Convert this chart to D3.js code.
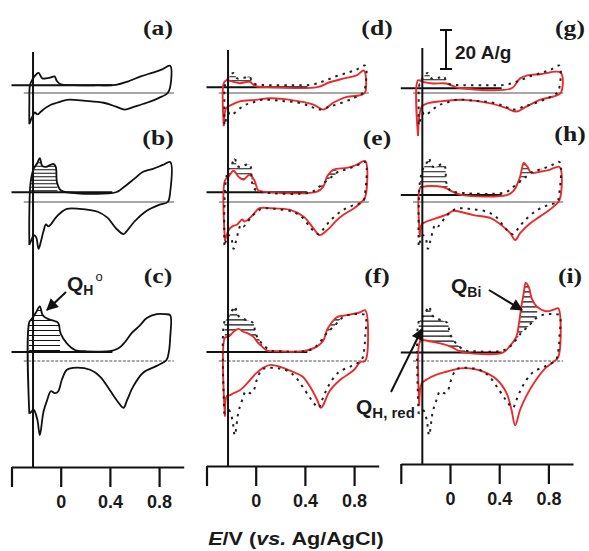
<!DOCTYPE html>
<html>
<head>
<meta charset="utf-8">
<script src="https://cdn.jsdelivr.net/npm/d3@7"></script>
<style>
  body { margin: 0; background: #fff; }
  svg { display: block; }
</style>
</head>
<body>
<svg id="chart" width="589" height="551"></svg>
<script>
// cyclic voltammograms, E in V vs Ag/AgCl, I in A/g
// each loop: anodic sweep first, then back along the cathodic sweep

// left column (a)-(c), also the dotted reference in the other columns
const cvA = [[-0.255,-16],[-0.255,-5],[-0.25,4],[-0.23,7],[-0.2,9.5],[-0.18,10.3],[-0.15,7.5],[-0.12,7.5],[-0.08,8],[-0.05,8.5],[-0.03,6],[0.0,4.5],[0.1,4],[0.3,4],[0.45,4.2],[0.55,6],[0.65,8.5],[0.75,10.5],[0.82,12],[0.89,14],[0.89,3],[0.87,0],
  [0.8,-2.5],[0.7,-5],[0.6,-7],[0.52,-8.5],[0.45,-7],[0.35,-5],[0.2,-4],[0.05,-3.5],[-0.03,-5],[-0.08,-6],[-0.12,-7.5],[-0.16,-9.5],[-0.19,-11],[-0.21,-10],[-0.23,-12],[-0.255,-16]];
const cvB = [[-0.255,-22],[-0.255,-5],[-0.245,10],[-0.22,17],[-0.19,20],[-0.17,22.5],[-0.15,18.5],[-0.12,18],[-0.06,19.5],[-0.04,18],[-0.03,10],[0.0,6],[0.05,5],[0.45,5],[0.52,8],[0.6,12],[0.67,15.5],[0.75,17],[0.83,19],[0.89,20.5],[0.89,5],[0.87,0],
  [0.8,-1.5],[0.7,-4.5],[0.6,-10],[0.53,-15.5],[0.51,-16.5],[0.45,-13.5],[0.38,-8],[0.3,-5],[0.15,-3.5],[0.05,-3.5],[0.0,-5.5],[-0.04,-8],[-0.08,-11.5],[-0.1,-12.5],[-0.12,-11.5],[-0.14,-15],[-0.16,-20],[-0.18,-24],[-0.2,-18],[-0.22,-17],[-0.235,-19],[-0.255,-22]];
const cvC = [[-0.255,-27],[-0.255,20],[-0.23,22],[-0.2,25],[-0.17,28],[-0.15,24],[-0.13,22.5],[-0.1,21.5],[-0.05,20.5],[-0.02,19.5],[0.0,14],[0.05,9],[0.12,5.5],[0.2,5],[0.4,5],[0.47,6.5],[0.52,9.5],[0.58,14.5],[0.64,18],[0.7,22],[0.78,24],[0.85,24],[0.89,23.5],[0.89,12],[0.88,5],[0.86,0.5],
  [0.78,-2.5],[0.67,-6],[0.59,-13],[0.54,-20],[0.51,-24],[0.46,-20.5],[0.4,-15],[0.32,-8],[0.24,-4.5],[0.1,-3.5],[0.05,-4.5],[0.01,-9.5],[-0.02,-15.5],[-0.045,-16.5],[-0.08,-15.5],[-0.11,-20],[-0.14,-26],[-0.17,-38],[-0.19,-30],[-0.22,-25],[-0.245,-26.5],[-0.255,-27]];

// red curves, middle column (d)-(f)
const redD = [[-0.26,-17],[-0.26,5],[-0.24,6.5],[-0.18,5.7],[-0.13,5],[-0.05,5.7],[0.0,3.5],[0.1,3],[0.5,3],[0.6,5.5],[0.72,7.5],[0.82,9],[0.88,11.5],[0.89,0.5],
  [0.86,-1],[0.74,-2],[0.63,-5],[0.55,-8.5],[0.47,-6],[0.28,-3.5],[0.12,-2.7],[0.0,-3.5],[-0.13,-4.3],[-0.21,-6.5],[-0.24,-7.7],[-0.26,-17]];
const redE = [[-0.25,-20],[-0.25,11],[-0.22,13],[-0.18,16],[-0.14,13],[-0.1,11.5],[-0.05,14],[-0.01,11],[0.02,6],[0.06,5.3],[0.5,5.3],[0.55,8],[0.58,13],[0.63,16.5],[0.74,17.5],[0.82,19],[0.89,21],[0.89,2.5],[0.86,0],
  [0.8,-3.2],[0.71,-6.7],[0.66,-9.3],[0.58,-14.5],[0.52,-17],[0.47,-13.5],[0.39,-7.5],[0.28,-4],[0.12,-3.2],[0.03,-3.2],[-0.02,-6.5],[-0.05,-8.3],[-0.09,-10],[-0.11,-9],[-0.15,-11.5],[-0.19,-12.5],[-0.22,-14.5],[-0.25,-20]];
const redF = [[-0.25,-28.5],[-0.25,12],[-0.22,12.5],[-0.18,15],[-0.14,16.5],[-0.1,15],[-0.06,14],[-0.02,12.5],[0.01,10],[0.05,7.5],[0.09,5.5],[0.2,5],[0.38,5],[0.5,7.5],[0.55,10.5],[0.58,16],[0.61,19],[0.66,22.5],[0.74,23.5],[0.85,25],[0.89,26],[0.89,0],
  [0.85,-0.5],[0.8,-4.5],[0.68,-10],[0.6,-15.5],[0.55,-22.5],[0.53,-24],[0.5,-20],[0.44,-13],[0.38,-8],[0.3,-5.5],[0.2,-3],[0.12,-2],[0.06,-3.5],[0.0,-6.5],[-0.07,-11.5],[-0.13,-15],[-0.18,-16.5],[-0.21,-17.5],[-0.235,-18],[-0.25,-28.5]];

// red curves, right column (g)-(i)
const redG = [[-0.26,-22],[-0.26,6.5],[-0.22,5.7],[-0.14,4.9],[-0.03,4.9],[0.05,2.9],[0.1,2.4],[0.5,2.4],[0.57,7.5],[0.63,9],[0.73,9.6],[0.9,10.4],[0.9,0],
  [0.84,-1.8],[0.73,-3.5],[0.62,-7],[0.54,-9.5],[0.46,-7.8],[0.33,-5.3],[0.11,-3.5],[-0.08,-4.3],[-0.19,-5.5],[-0.23,-7],[-0.26,-22]];
const redH = [[-0.245,-18],[-0.245,7],[-0.22,7.8],[-0.16,8.2],[-0.05,7.5],[0.0,6],[0.05,4.5],[0.1,3.5],[0.46,3.5],[0.52,6],[0.57,13],[0.6,20],[0.63,18],[0.66,15],[0.73,15.5],[0.81,16.5],[0.89,18],[0.89,1],
  [0.84,-2.5],[0.73,-7.5],[0.65,-11],[0.57,-16],[0.53,-19.5],[0.49,-16],[0.43,-12.5],[0.33,-8.3],[0.19,-6.7],[0.08,-5],[0.03,-4.5],[-0.03,-6.5],[-0.11,-8.3],[-0.19,-10],[-0.23,-11.5],[-0.245,-18]];
const redI = [[-0.25,-23],[-0.25,9],[-0.23,10.7],[-0.16,10],[-0.08,9],[0.0,7.5],[0.08,5],[0.12,4.3],[0.43,4.3],[0.49,8],[0.54,12.5],[0.56,19],[0.58,28],[0.6,35],[0.615,40],[0.64,38],[0.665,32],[0.705,28],[0.78,25.5],[0.85,26.5],[0.88,27],[0.88,2],
  [0.84,-0.5],[0.77,-4],[0.68,-11.5],[0.62,-18],[0.57,-25],[0.53,-33],[0.5,-25],[0.46,-16.5],[0.38,-9.5],[0.27,-5.5],[0.16,-3.8],[0.08,-3.8],[0.03,-4.5],[-0.03,-5.5],[-0.11,-7],[-0.19,-9.5],[-0.23,-11.5],[-0.25,-23]];

const panelLabels = [["(a)", "(b)", "(c)"], ["(d)", "(e)", "(f)"], ["(g)", "(h)", "(i)"]];
// double-layer level (black line), A/g, by column then row
const baseCurrent = [[4, 5, 4.6], [3, 5, 4.6], [2.4, 3.6, 4.4]];
// upper E of the hatched H region, and E range of the hatched Bi region
const hEnd = [[null, -0.025, -0.005], [0.0, 0.0, 0.06], [0.0, 0.06, 0.12]];
const biRange = [[null, null, null], [null, [0.5, 0.7], [0.5, 0.75]], [null, [0.5, 0.75], [0.46, 0.76]]];
const xTicks = [-0.4, 0, 0.4, 0.8];
const xTickLabels = ["", "0", "0.4", "0.8"];
const scaleBar = 20; // A/g

const refLoops = [cvA, cvB, cvC];
const redLoops = [null, [redD, redE, redF], [redG, redH, redI]];

const svg = d3.select("#chart");
svg.append("rect").attr("width", 589).attr("height", 551).attr("fill", "#fff");
const defs = svg.append("defs");
defs.append("marker")
  .attr("id", "arrow")
  .attr("viewBox", "0 0 10 10")
  .attr("refX", 9).attr("refY", 5)
  .attr("markerWidth", 15).attr("markerHeight", 12)
  .attr("markerUnits", "userSpaceOnUse")
  .attr("orient", "auto")
  .append("path").attr("d", "M0,0L10,5L0,10Z").attr("fill", "#111");

const colX0 = [60.7, 255.7, 450];   // pixel of E = 0 per column
const rowY0 = [93, 202, 361];       // pixel of I = 0 per row
const axisY = [467, 466, 464];
const axisTop = [52, 50, 48];
const pxPerV = 123, pxPerA = 1.95;
const INK = "#111", RED = "#ec2a2a";
const smooth = d3.curveCatmullRom.alpha(0.5);

function xScaleFor(c) {
  return d3.scaleLinear().domain([-0.4, 1.0])
    .range([colX0[c] - 0.4 * pxPerV, colX0[c] + 1.0 * pxPerV]);
}
function yScaleFor(r) {
  return d3.scaleLinear().domain([0, 20]).range([rowY0[r], rowY0[r] - 20 * pxPerA]);
}
function anodic(loop) {
  return loop.slice(0, d3.maxIndex(loop, d => d[0]) + 1);
}

let clipCount = 0;
function drawHatch(g, poly, x, y, gap) {
  const id = "hatch" + (clipCount++);
  const path = d3.line().x(d => x(d[0])).y(d => y(d[1])).curve(smooth);
  defs.append("clipPath").attr("id", id)
    .append("path").attr("d", path(poly) + "Z").attr("clip-rule", "evenodd");
  const [top, bottom] = d3.extent(poly, d => y(d[1]));
  const [left, right] = d3.extent(poly, d => x(d[0]));
  g.append("g").attr("clip-path", `url(#${id})`)
    .selectAll("line")
    .data(d3.range(bottom - 1.5, top - 4, -gap))
    .join("line")
    .attr("x1", left - 4).attr("x2", right + 4)
    .attr("y1", d => d).attr("y2", d => d)
    .attr("stroke", INK).attr("stroke-width", 1.1);
}

for (let c = 0; c < 3; c++) {
  const x = xScaleFor(c);
  const col = svg.append("g");

  for (let r = 0; r < 3; r++) {
    const y = yScaleFor(r);
    const g = col.append("g");
    const line = d3.line().x(d => x(d[0])).y(d => y(d[1])).curve(smooth);
    const ref = refLoops[r];
    const base = baseCurrent[c][r];

    // zero current line
    g.append("line")
      .attr("x1", x(-0.3)).attr("x2", x(0.92))
      .attr("y1", y(0)).attr("y2", y(0))
      .attr("stroke", "#8a8a8a").attr("stroke-width", 1.6)
      .attr("stroke-dasharray", r === 2 ? "3,1.5" : null);
    // double layer level
    g.append("line")
      .attr("x1", x(-0.4)).attr("x2", x(0.42))
      .attr("y1", y(base)).attr("y2", y(base))
      .attr("stroke", INK).attr("stroke-width", 2);

    if (c === 0) {
      if (hEnd[c][r] !== null) {
        const up = anodic(ref).filter(d => d[0] <= hEnd[c][r] && d[1] > base);
        const poly = [[-0.255, base]].concat(up, [[hEnd[c][r], base]]);
        drawHatch(g, poly, x, y, r === 1 ? 3.5 : 5);
      }
      g.append("path").attr("d", line(ref))
        .attr("fill", "none").attr("stroke", INK).attr("stroke-width", 1.8);
    } else {
      const red = redLoops[c][r];
      const refUp = anodic(ref), redUp = anodic(red);
      const hPoly = refUp.filter(d => d[0] <= hEnd[c][r] && d[1] > 0)
        .concat(redUp.filter(d => d[0] <= hEnd[c][r] && d[1] > 0).reverse());
      drawHatch(g, hPoly, x, y, r === 0 ? 4 : 5);
      const bi = biRange[c][r];
      if (bi) {
        const biPoly = redUp.filter(d => d[0] >= bi[0] && d[0] <= bi[1])
          .concat(refUp.filter(d => d[0] >= bi[0] && d[0] <= bi[1]).reverse());
        drawHatch(g, biPoly, x, y, r === 1 ? 4 : 5);
      }
      g.append("path").attr("d", line(red))
        .attr("fill", "none").attr("stroke", RED).attr("stroke-width", 1.9);
      g.append("path").attr("d", line(ref))
        .attr("fill", "none").attr("stroke", "#222").attr("stroke-width", 2)
        .attr("stroke-dasharray", "2.5,5");
    }
  }

  // vertical marker at the lower potential limit
  col.append("line")
    .attr("x1", x(-0.225)).attr("x2", x(-0.225))
    .attr("y1", axisTop[c]).attr("y2", axisY[c])
    .attr("stroke", INK).attr("stroke-width", 2);

  // potential axis
  const ax = col.append("g")
    .attr("transform", `translate(0,${axisY[c]})`)
    .call(d3.axisBottom(x).tickValues(xTicks)
      .tickFormat((d, i) => xTickLabels[i])
      .tickSize(20).tickSizeOuter(0).tickPadding(8));
  ax.select(".domain").attr("stroke", INK).attr("stroke-width", 2.2);
  ax.selectAll(".tick line").attr("stroke", INK).attr("stroke-width", 2.2);
  ax.selectAll(".tick text")
    .attr("fill", "#1a1a1a")
    .style("font", "bold 18px 'Liberation Sans', Arial, sans-serif");

  // panel letters
  const labelX = [158, 377, 570][c];
  [35, 145, 283].forEach((by, r) => {
    svg.append("text")
      .attr("transform", `translate(${labelX},${c === 2 && r === 1 ? 141 : by}) scale(1.22,1)`)
      .attr("text-anchor", "middle")
      .attr("fill", "#1a1a1a")
      .style("font", "bold 21px 'Liberation Serif', 'Times New Roman', serif")
      .text(panelLabels[c][r]);
  });
}

// scale bar
const ySc = yScaleFor(0);
const barLen = ySc(0) - ySc(scaleBar);
const bar = svg.append("g").attr("stroke", INK).attr("stroke-width", 2);
bar.append("line").attr("x1", 446).attr("x2", 446).attr("y1", 30).attr("y2", 30 + barLen);
bar.append("line").attr("x1", 440).attr("x2", 452).attr("y1", 30).attr("y2", 30);
bar.append("line").attr("x1", 440).attr("x2", 452).attr("y1", 30 + barLen).attr("y2", 30 + barLen);
svg.append("text").attr("x", 455).attr("y", 59)
  .attr("fill", "#1a1a1a")
  .style("font", "bold 19px 'Liberation Sans', Arial, sans-serif")
  .text(scaleBar + " A/g");

// charge labels with arrows
const sans = "'Liberation Sans', Arial, sans-serif";
function chargeLabel(x0, y0, sub, sup, subSize) {
  const t = svg.append("text").attr("x", x0).attr("y", y0).attr("fill", "#1a1a1a");
  t.append("tspan").style("font", `bold 21px ${sans}`).text("Q");
  t.append("tspan").attr("dy", 4).style("font", `bold ${subSize}px ${sans}`).text(sub);
  if (sup) t.append("tspan").attr("dy", -14).attr("dx", 2).style("font", `13px ${sans}`).text(sup);
}
function arrow(x1, y1, x2, y2) {
  svg.append("line").attr("x1", x1).attr("y1", y1).attr("x2", x2).attr("y2", y2)
    .attr("stroke", INK).attr("stroke-width", 2).attr("marker-end", "url(#arrow)");
}
chargeLabel(67, 291, "H", "o", 14);
arrow(66, 292, 47, 310);
chargeLabel(451, 293, "Bi", null, 14);
arrow(489, 290, 522, 310);
chargeLabel(356, 414, "H, red", null, 15);
arrow(391, 392, 422, 329);

// axis title
const title = svg.append("text")
  .attr("transform", "translate(296,545) scale(1.2,1)")
  .attr("text-anchor", "middle")
  .attr("fill", "#1a1a1a")
  .style("font", `bold 18px ${sans}`);
title.append("tspan").style("font-style", "italic").text("E");
title.append("tspan").text("/V (");
title.append("tspan").style("font-style", "italic").text("vs.");
title.append("tspan").text(" Ag/AgCl)");
</script>
</body>
</html>
